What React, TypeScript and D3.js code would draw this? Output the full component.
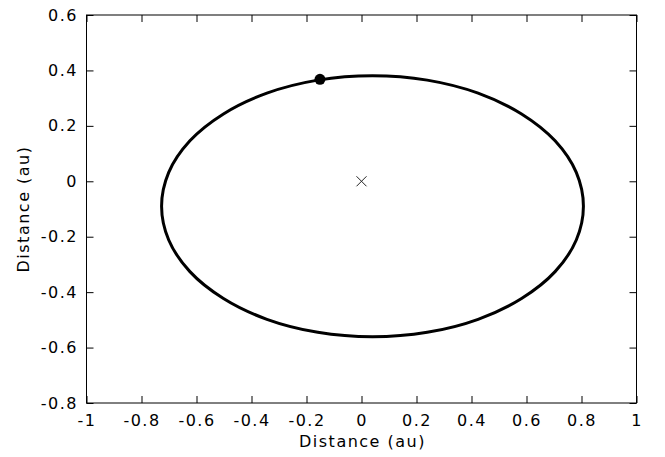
import { useEffect, useRef } from 'react';
import * as d3 from 'd3';

// orbit outline (au)
const orbitX = [0.807, 0.781, 0.704, 0.582, 0.424, 0.239, 0.04, -0.159, -0.344, -0.502, -0.624, -0.701,
  -0.727, -0.701, -0.624, -0.502, -0.344, -0.159, 0.04, 0.239, 0.424, 0.582, 0.704, 0.781];
const orbitY = [-0.09, 0.032, 0.146, 0.243, 0.318, 0.365, 0.381, 0.365, 0.318, 0.243, 0.146, 0.032,
  -0.09, -0.212, -0.326, -0.423, -0.498, -0.545, -0.561, -0.545, -0.498, -0.423, -0.326, -0.212];

// body position and the centre marker
const bodyPos = [-0.151, 0.368];
const centrePos = [0, 0];

const xTicks = [-1, -0.8, -0.6, -0.4, -0.2, 0, 0.2, 0.4, 0.6, 0.8, 1];
const yTicks = [-0.8, -0.6, -0.4, -0.2, 0, 0.2, 0.4, 0.6];

const App = () => {
  const svgRef = useRef<SVGSVGElement>(null);

  useEffect(() => {
    const svg = d3.select(svgRef.current);
    svg.selectAll("*").remove();

    const W = 665, H = 457;
    const margin = { top: 15, right: 28.5, bottom: 54, left: 86.5 };
    const width = W - margin.left - margin.right;
    const height = H - margin.top - margin.bottom;
    const font = "DejaVu Sans, sans-serif";

    const g = svg.append("g")
      .attr("transform", `translate(${margin.left},${margin.top})`);

    const x = d3.scaleLinear().domain([-1, 1]).range([0, width]);
    const y = d3.scaleLinear().domain([-0.8, 0.6]).range([height, 0]);
    // plain hyphen for negatives, like gnuplot
    const fmt = (d: number) => (Math.abs(d) < 1e-9 ? "0" : String(+d.toFixed(1)));

    // gnuplot style ticks, inward on all four sides
    const axes = [
      { ax: d3.axisBottom(x).tickValues(xTicks).tickSizeInner(-7).tickSizeOuter(0).tickPadding(12).tickFormat(fmt as any), t: `translate(0,${height})` },
      { ax: d3.axisTop(x).tickValues(xTicks).tickSizeInner(-7).tickSizeOuter(0).tickFormat(() => ""), t: "" },
      { ax: d3.axisLeft(y).tickValues(yTicks).tickSizeInner(-7).tickSizeOuter(0).tickPadding(8.5).tickFormat(fmt as any), t: "" },
      { ax: d3.axisRight(y).tickValues(yTicks).tickSizeInner(-7).tickSizeOuter(0).tickFormat(() => ""), t: `translate(${width},0)` },
    ];
    axes.forEach(a => {
      const ag = g.append("g").attr("transform", a.t).call(a.ax as any);
      ag.select(".domain").remove();
      ag.selectAll(".tick line").attr("stroke", "#000");
      ag.selectAll(".tick text")
        .attr("fill", "#000")
        .style("font-family", font)
        .style("font-size", "16px")
        .style("letter-spacing", "1.5px");
    });

    g.append("rect")
      .attr("width", width)
      .attr("height", height)
      .attr("fill", "none")
      .attr("stroke", "#000")
      .attr("stroke-width", 1);

    // orbit
    const pts = orbitX.map((v, i) => [v, orbitY[i]] as [number, number]);
    const line = d3.line<[number, number]>()
      .x(d => x(d[0]))
      .y(d => y(d[1]))
      .curve(d3.curveCatmullRomClosed);
    g.append("path")
      .attr("d", line(pts))
      .attr("fill", "none")
      .attr("stroke", "#000")
      .attr("stroke-width", 3);

    // centre cross
    const s = 5;
    const cx = x(centrePos[0]), cy = y(centrePos[1]);
    g.append("path")
      .attr("d", `M${cx - s},${cy - s}L${cx + s},${cy + s}M${cx - s},${cy + s}L${cx + s},${cy - s}`)
      .attr("stroke", "#222")
      .attr("stroke-width", 1);

    // body
    g.append("circle")
      .attr("cx", x(bodyPos[0]))
      .attr("cy", y(bodyPos[1]))
      .attr("r", 5.5)
      .attr("fill", "#000");

    // axis titles
    svg.append("text")
      .attr("x", margin.left + width / 2 + 1)
      .attr("y", 447)
      .attr("text-anchor", "middle")
      .style("font-family", font)
      .style("font-size", "16px")
      .style("letter-spacing", "1.5px")
      .text("Distance (au)");

    svg.append("text")
      .attr("transform", `translate(29,${margin.top + height / 2}) rotate(-90)`)
      .attr("text-anchor", "middle")
      .style("font-family", font)
      .style("font-size", "16px")
      .style("letter-spacing", "1.5px")
      .text("Distance (au)");
  }, []);

  return (
    <svg ref={svgRef} width={665} height={457}
      style={{ position: "absolute", left: 0, top: 0, background: "#fff" }} />
  );
};

export default App;
